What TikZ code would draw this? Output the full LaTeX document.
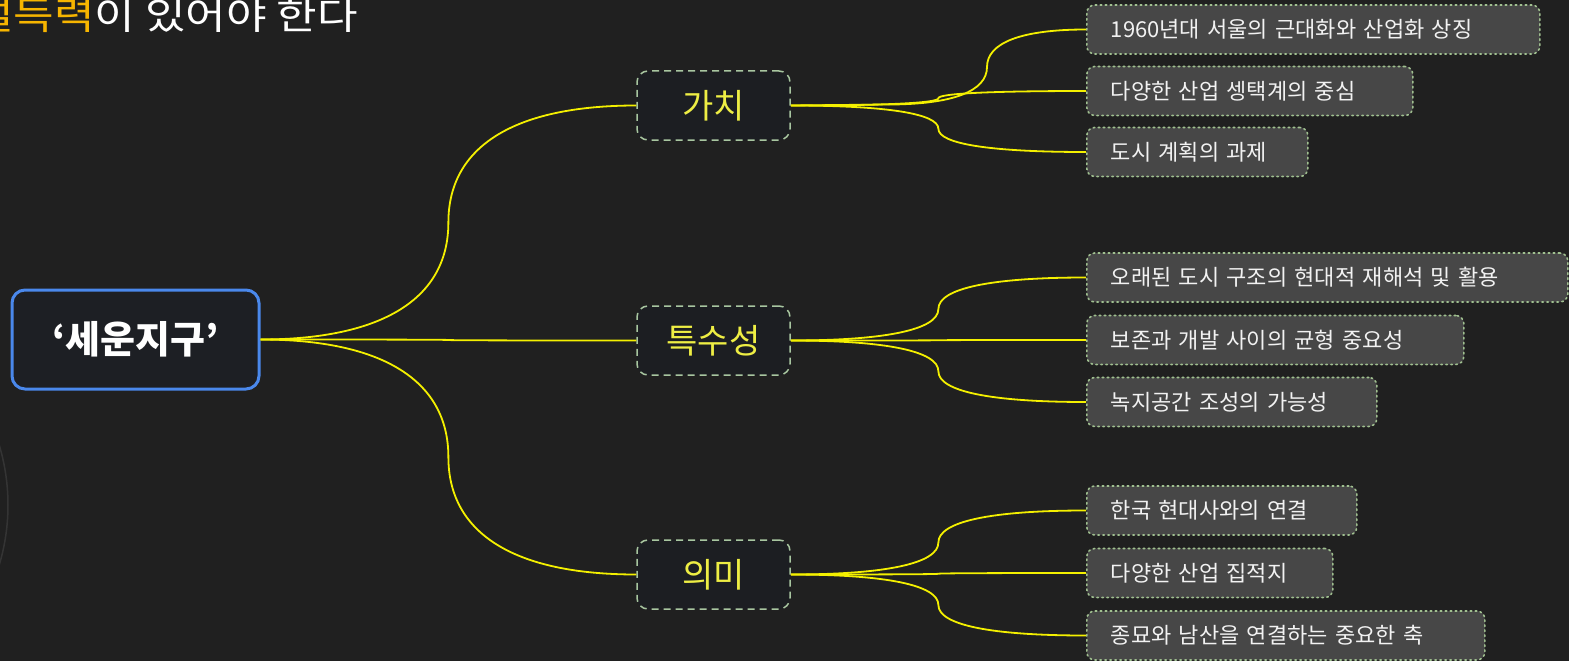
\documentclass[tikz,border=0pt]{standalone}
\usepackage{fontspec}
\newfontfamily\kr{Noto Sans CJK KR}
\usetikzlibrary{calc}
\definecolor{bg}{HTML}{202020}
\definecolor{rootfill}{HTML}{1D1F24}
\definecolor{rootedge}{HTML}{4A88EC}
\definecolor{midfill}{HTML}{1C1E22}
\definecolor{midedge}{HTML}{A8C6A0}
\definecolor{midtext}{HTML}{EEEE44}
\definecolor{leaffill}{HTML}{474747}
\definecolor{leafedge}{HTML}{A0C090}
\definecolor{linkyellow}{HTML}{F4F000}
\definecolor{orangetext}{HTML}{F7B500}
\definecolor{faint}{HTML}{343434}
\newcommand\mmconn[2]{\draw[conn] let \p1=(#1), \p2=(#2), \n1={(\x2-\x1)/2}, \n2={(\y2-\y1)/2} in
  (\p1) .. controls +({0.65*\n1},0) and +(0,{-0.65*\n2}) .. ({\x1+\n1},{\y1+\n2})
  .. controls +(0,{0.65*\n2}) and +({-0.65*\n1},0) .. (\p2);}
\begin{document}
\begin{tikzpicture}[x=1pt,y=1pt,
  rootbox/.style={draw=rootedge, line width=3pt, fill=rootfill, rounded corners=13pt,
    minimum width=247pt, minimum height=99pt, inner sep=0pt, text=white,
    font=\kr\bfseries\fontsize{38}{42}\selectfont},
  midbox/.style={draw=midedge, line width=1.5pt, dash pattern=on 7pt off 5pt, fill=midfill,
    rounded corners=11pt, minimum width=153pt, minimum height=69pt, inner sep=0pt,
    text=midtext, font=\kr\fontsize{34}{38}\selectfont},
  leafbox/.style={draw=leafedge, line width=1.6pt, dash pattern=on 1.6pt off 3.4pt, line cap=round,
    fill=leaffill, rounded corners=8pt, minimum height=49pt, inner xsep=24pt, inner ysep=0pt,
    anchor=west, align=left, text=white!95!black, font=\kr\fontsize{22}{26}\selectfont},
  conn/.style={draw=linkyellow, line width=1.8pt}]
\useasboundingbox (0,0) rectangle (1569,-661);
\clip (0,0) rectangle (1569,-661);
\fill[bg] (0,0) rectangle (1569,-661);
\draw[faint, line width=1.5pt] (-200,-505) circle (208);

% heading fragment at the top
\node[anchor=base east, inner sep=0pt, font=\kr\fontsize{38}{42}\selectfont] (head) at (358,-30)
  {\scalebox{1.16}[1]{\textcolor{orangetext}{설득력}\textcolor{white}{이 있어야 한다}}};

% nodes
\node[rootbox] (root) at (135.5,-339.5) {‘세운지구’};
\node[midbox] (m1) at (713.5,-105.5) {가치};
\node[midbox] (m2) at (713.5,-340.5) {특수성};
\node[midbox] (m3) at (713.5,-574.5) {의미};

\node[leafbox, text width=405pt] (l1) at (1086,-29.5) {\mbox{1960년대 서울의 근대화와 산업화 상징}};
\node[leafbox, text width=278pt] (l2) at (1086,-91) {\mbox{다양한 산업 셍택계의 중심}};
\node[leafbox, text width=173pt] (l3) at (1086,-152) {\mbox{도시 계획의 과제}};
\node[leafbox, text width=433pt] (l4) at (1086,-277.5) {\mbox{오래된 도시 구조의 현대적 재해석 및 활용}};
\node[leafbox, text width=329pt] (l5) at (1086,-340) {\mbox{보존과 개발 사이의 균형 중요성}};
\node[leafbox, text width=242pt] (l6) at (1086,-402) {\mbox{녹지공간 조성의 가능성}};
\node[leafbox, text width=222pt] (l7) at (1086,-510.5) {\mbox{한국 현대사와의 연결}};
\node[leafbox, text width=198pt] (l8) at (1086,-573) {\mbox{다양한 산업 집적지}};
\node[leafbox, text width=350pt] (l9) at (1086,-635.5) {\mbox{종묘와 남산을 연결하는 중요한 축}};

\coordinate (c1) at (888,-104.5);

% connectors
\mmconn{root.east}{m1.west}
\mmconn{root.east}{m2.west}
\mmconn{root.east}{m3.west}

\draw[conn] (m1.east) -- (c1);
\mmconn{c1}{l1.west}
\mmconn{m1.east}{l2.west}
\mmconn{m1.east}{l3.west}
\mmconn{m2.east}{l4.west}
\mmconn{m2.east}{l5.west}
\mmconn{m2.east}{l6.west}
\mmconn{m3.east}{l7.west}
\mmconn{m3.east}{l8.west}
\mmconn{m3.east}{l9.west}
\end{tikzpicture}
\end{document}
